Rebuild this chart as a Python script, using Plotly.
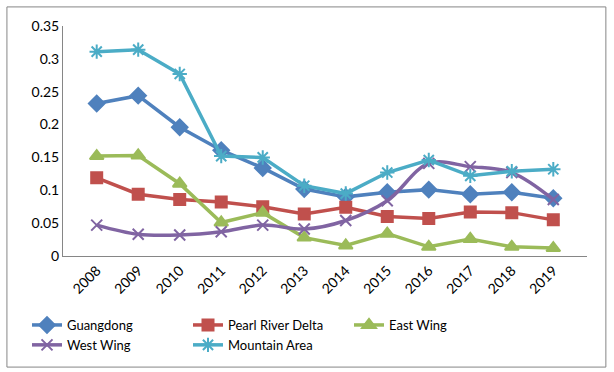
import plotly.graph_objects as go

years = ['2008', '2009', '2010', '2011', '2012', '2013', '2014', '2015', '2016', '2017', '2018', '2019']

guangdong = [0.232, 0.244, 0.196, 0.161, 0.134, 0.102, 0.090, 0.097, 0.101, 0.094, 0.097, 0.088]
pearl_river_delta = [0.119, 0.094, 0.086, 0.082, 0.075, 0.064, 0.074, 0.060, 0.057, 0.067, 0.066, 0.055]
east_wing = [0.152, 0.153, 0.110, 0.051, 0.066, 0.028, 0.016, 0.034, 0.014, 0.026, 0.014, 0.012]
west_wing = [0.047, 0.033, 0.032, 0.037, 0.047, 0.041, 0.054, 0.084, 0.141, 0.136, 0.127, 0.086]
mountain_area = [0.311, 0.314, 0.277, 0.152, 0.150, 0.107, 0.095, 0.127, 0.146, 0.122, 0.129, 0.132]

series = [
    ('Guangdong', guangdong, '#4F81BD', 'diamond', 12, 'linear'),
    ('Pearl River Delta', pearl_river_delta, '#C0504D', 'square', 11, 'linear'),
    ('East Wing', east_wing, '#9BBB59', 'triangle-up', 12, 'linear'),
    ('West Wing', west_wing, '#8064A2', 'x-thin', 11, 'spline'),
    ('Mountain Area', mountain_area, '#4BACC6', 'asterisk', 12, 'linear'),
]

fig = go.Figure()
for name, vals, color, symbol, size, shape in series:
    fig.add_trace(go.Scatter(
        x=years, y=vals, name=name,
        mode='lines+markers',
        line=dict(color=color, width=3.5, shape=shape),
        marker=dict(symbol=symbol, size=size, color=color,
                    line=dict(color=color, width=2))))

font = 'Lato, "Liberation Sans", sans-serif'

fig.update_layout(
    width=614, height=372,
    margin=dict(l=63, r=27, t=26, b=116),
    paper_bgcolor='white', plot_bgcolor='white',
    font=dict(family=font, size=14, color='black'),
    showlegend=True,
    legend=dict(orientation='h', xref='container', yref='container',
                x=27 / 614, y=1 - 310 / 372, xanchor='left', yanchor='top',
                entrywidth=116, entrywidthmode='pixels',
                font=dict(size=13), tracegroupgap=0, itemwidth=30),
    xaxis=dict(type='category', showgrid=False, showline=True, linecolor='#868686',
               linewidth=1, ticks='', tickangle=-45, tickfont=dict(size=14),
               automargin=False),
    yaxis=dict(range=[0, 0.35], dtick=0.05, showgrid=False, showline=True,
               linecolor='#868686', linewidth=1, ticks='', zeroline=False,
               tickfont=dict(size=14), automargin=False),
    shapes=[dict(type='rect', xref='paper', yref='paper',
                 x0=-0.107, x1=1.036, y0=-0.483, y1=1.083,
                 line=dict(color='#868686', width=1))],
)

# the page body has a default 8px margin; drop it so the chart sits at 0,0
fig.write_html('out.html', config={'displayModeBar': False},
               post_script="document.body.style.margin='0px';")
